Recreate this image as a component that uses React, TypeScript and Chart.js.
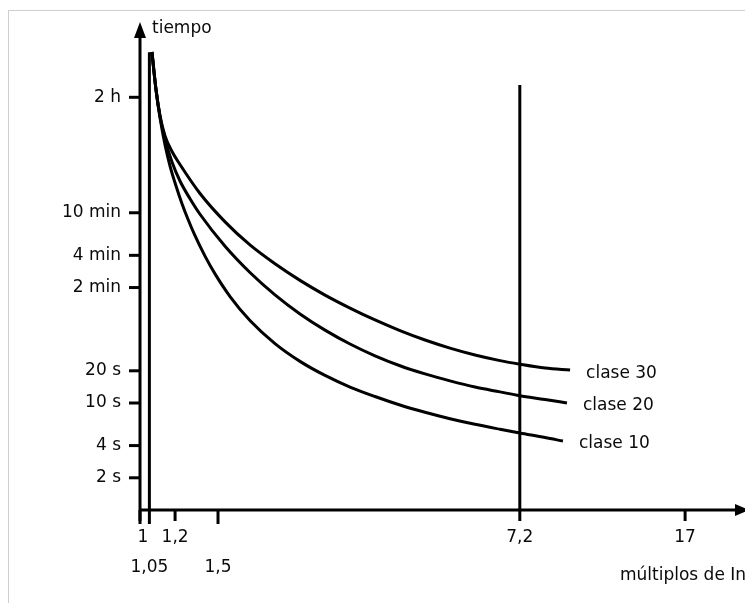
import React, { useEffect, useRef } from 'react';
import { Chart, registerables } from 'chart.js';

Chart.register(...registerables);

// Axis ticks
const xTickValues = [1, 1.05, 1.2, 1.5, 7.2, 17];
const xTickLabels = ['1', '1,05', '1,2', '1,5', '7,2', '17'];
const xTickRows = [0, 1, 0, 1, 0, 0];
const yTickValues = [2, 4, 10, 20, 120, 240, 600, 7200];
const yTickLabels = ['2 s', '4 s', '10 s', '20 s', '2 min', '4 min', '10 min', '2 h'];

const xTitle = 'múltiplos de In';
const yTitle = 'tiempo';

// Trip curves (multiple of In, time in seconds)
const seriesNames = ['clase 30', 'clase 20', 'clase 10'];
const clase30X = [1.064, 1.087, 1.11, 1.139, 1.181, 1.231, 1.366, 1.556, 1.771, 2.017, 2.297, 2.616, 2.979, 3.392, 3.862, 4.399, 5.009, 5.704, 6.495, 7.2, 8.21, 9.35];
const clase30T = [19075, 8417, 4811, 3129, 2241, 1694, 908, 493, 300, 200, 140, 102, 77.1, 59.7, 47.5, 38.8, 32.6, 28.1, 24.9, 23.05, 21.2, 20.3];
const clase20X = [1.064, 1.087, 1.11, 1.139, 1.181, 1.231, 1.297, 1.366, 1.556, 1.771, 2.017, 2.297, 2.616, 2.979, 3.392, 3.862, 4.399, 5.009, 5.704, 6.495, 7.2, 8.21, 9.2];
const clase20T = [19075, 8417, 4709, 2934, 1788, 1188, 811, 581, 292, 166, 102.6, 68.0, 48.0, 35.6, 27.6, 22.3, 18.7, 16.1, 14.1, 12.7, 11.7, 10.8, 10.0];
const clase10X = [1.064, 1.087, 1.11, 1.139, 1.169, 1.206, 1.244, 1.284, 1.331, 1.402, 1.477, 1.597, 1.771, 2.017, 2.297, 2.616, 2.979, 3.392, 3.862, 4.399, 5.009, 5.704, 6.495, 7.2, 8.21, 9.01];
const clase10T = [19075, 8417, 4609, 2578, 1640, 1067, 729, 519, 366, 236, 161, 98.9, 59.0, 35.9, 24.5, 18.1, 14.1, 11.5, 9.58, 8.19, 7.13, 6.32, 5.68, 5.24, 4.76, 4.41];

// Vertical reference lines
const refLineX = [1.05, 7.2];
const refLineTop = [19000, 9400];

const xMin = 1;
const xMax = 22.85;
const yMin = 1;
const yMax = 36400;

const FONT = '17px "DejaVu Sans"';
const TEXT = '#0a0a0a';

const toPoints = (xs: number[], ys: number[]) => xs.map((v, i) => ({ x: v, y: ys[i] }));

const schematicPlugin = {
  id: 'schematic',
  afterDraw(chart: any) {
    const { ctx, chartArea } = chart;
    const xs = chart.scales.x;
    const ys = chart.scales.y;
    const x0 = xs.getPixelForValue(xMin);
    const y0 = ys.getPixelForValue(yMin);
    ctx.save();
    ctx.strokeStyle = '#000';
    ctx.fillStyle = '#000';
    ctx.lineWidth = 3;
    ctx.lineCap = 'butt';

    // y axis with arrow
    ctx.beginPath();
    ctx.moveTo(x0, y0 + 14);
    ctx.lineTo(x0, chartArea.top + 12);
    ctx.stroke();
    ctx.beginPath();
    ctx.moveTo(x0, chartArea.top);
    ctx.lineTo(x0 - 6, chartArea.top + 16);
    ctx.lineTo(x0 + 6, chartArea.top + 16);
    ctx.closePath();
    ctx.fill();

    // x axis with arrow
    ctx.beginPath();
    ctx.moveTo(x0, y0);
    ctx.lineTo(chartArea.right - 4, y0);
    ctx.stroke();
    ctx.beginPath();
    ctx.moveTo(chartArea.right + 7, y0);
    ctx.lineTo(chartArea.right - 7, y0 - 6);
    ctx.lineTo(chartArea.right - 7, y0 + 6);
    ctx.closePath();
    ctx.fill();

    // y ticks + labels
    ctx.font = FONT;
    ctx.textBaseline = 'middle';
    ctx.textAlign = 'right';
    yTickValues.forEach((v, i) => {
      const py = ys.getPixelForValue(v);
      ctx.beginPath();
      ctx.moveTo(x0 - 11, py);
      ctx.lineTo(x0, py);
      ctx.stroke();
      ctx.fillStyle = TEXT;
      ctx.fillText(yTickLabels[i], x0 - 19, py);
    });

    // x ticks + labels
    ctx.textAlign = 'center';
    xTickValues.forEach((v, i) => {
      const px = xs.getPixelForValue(v);
      const row = xTickRows[i];
      ctx.beginPath();
      ctx.moveTo(px, y0);
      ctx.lineTo(px, y0 + (row ? 14 : 11));
      ctx.stroke();
      ctx.fillStyle = TEXT;
      ctx.fillText(xTickLabels[i], px + (v === 1 ? 3 : 0), y0 + (row ? 58 : 28));
    });

    // axis titles
    ctx.textAlign = 'left';
    ctx.fillText(yTitle, x0 + 12, chartArea.top + 7);
    ctx.fillText(xTitle, x0 + 480, y0 + 66);

    // series labels at curve ends
    const ends = [
      [clase30X, clase30T],
      [clase20X, clase20T],
      [clase10X, clase10T],
    ];
    ends.forEach(([xa, ya], i) => {
      const px = xs.getPixelForValue(xa[xa.length - 1]);
      const py = ys.getPixelForValue(ya[ya.length - 1]);
      ctx.fillText(seriesNames[i], px + 16, py + 3);
    });
    ctx.restore();
  },
};

export default function App() {
  const canvasRef = useRef<HTMLCanvasElement | null>(null);

  useEffect(() => {
    if (!canvasRef.current) return;
    const curveStyle = {
      borderColor: '#000',
      borderWidth: 3,
      pointRadius: 0,
      fill: false,
      cubicInterpolationMode: 'monotone' as const,
    };
    const refStyle = {
      borderColor: '#000',
      borderWidth: 3,
      pointRadius: 0,
      fill: false,
      tension: 0,
    };
    const chart = new Chart(canvasRef.current, {
      type: 'line',
      data: {
        datasets: [
          { label: seriesNames[0], data: toPoints(clase30X, clase30T), ...curveStyle },
          { label: seriesNames[1], data: toPoints(clase20X, clase20T), ...curveStyle },
          { label: seriesNames[2], data: toPoints(clase10X, clase10T), ...curveStyle },
          ...refLineX.map((v, i) => ({
            label: 'ref ' + v,
            data: [
              { x: v, y: yMin },
              { x: v, y: refLineTop[i] },
            ],
            ...refStyle,
          })),
        ],
      },
      options: {
        responsive: false,
        devicePixelRatio: 1,
        animation: false,
        layout: { padding: { left: 140, right: 3, top: 22, bottom: 93 } },
        scales: {
          x: { type: 'logarithmic', min: xMin, max: xMax, display: false },
          y: { type: 'logarithmic', min: yMin, max: yMax, display: false },
        },
        plugins: {
          legend: { display: false },
          tooltip: { enabled: false },
        },
      },
      plugins: [schematicPlugin],
    });
    return () => chart.destroy();
  }, []);

  return (
    <div style={{ position: 'absolute', left: 0, top: 0, width: 745, height: 603, background: '#fff' }}>
      <div
        style={{
          position: 'absolute',
          left: 8,
          top: 10,
          width: 737,
          height: 593,
          borderLeft: '1px solid #cfcfcf',
          borderTop: '1px solid #cfcfcf',
          boxSizing: 'border-box',
        }}
      />
      <canvas
        ref={canvasRef}
        width={745}
        height={603}
        style={{ position: 'absolute', left: 0, top: 0, display: 'block' }}
      />
    </div>
  );
}
